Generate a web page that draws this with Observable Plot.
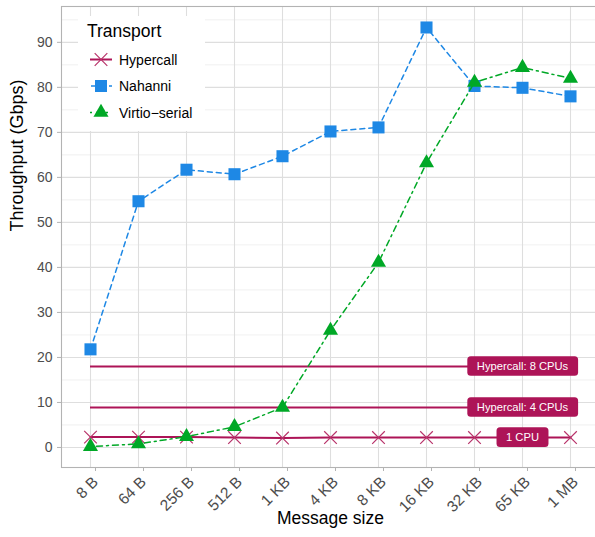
<!DOCTYPE html>
<html><head><meta charset="utf-8">
<script src="https://cdn.jsdelivr.net/npm/d3@7"></script>
<script src="https://cdn.jsdelivr.net/npm/@observablehq/plot@0.6"></script>
<style>
html,body{margin:0;padding:0;background:#fff;overflow:hidden;}
#wrap{position:relative;width:599px;height:537px;overflow:hidden;}
#wrap svg.plot{position:absolute;left:0;top:0;max-width:none !important;}
#legend{position:absolute;left:78px;top:16px;}
</style></head><body><div id="wrap"></div>
<script>
const sizes = ["8 B","64 B","256 B","512 B","1 KB","4 KB","8 KB","16 KB","32 KB","65 KB","1 MB"];
const nahanni = [21.8,54.7,61.7,60.7,64.7,70.2,71.1,93.3,80.3,79.9,78.0];
const virtio = [0.2,0.8,2.4,4.6,8.9,26.0,41.1,63.2,81.1,84.4,82.0];
const hypercall1 = [2.3,2.3,2.3,2.2,2.1,2.2,2.2,2.2,2.2,2.2,2.2];
const multiLabels = ["Hypercall: 8 CPUs","Hypercall: 4 CPUs"];
const multiValues = [18.0,8.9];
const oneCpuLabel = "1 CPU";
const labelAt = "65 KB";
const majorTicks = [0,10,20,30,40,50,60,70,80,90];
const minorTicks = [5,15,25,35,45,55,65,75,85,95];
const seriesNames = ["Hypercall","Nahanni","Virtio\u2212serial"];

const C = {hyper:"#AD1457", nah:"#1E88E5", vir:"#00A826"};
const FONT = '"Liberation Sans", Arial, sans-serif';

const rows = sizes.map((s,i)=>({size:s, nahanni:nahanni[i], virtio:virtio[i], hyper:hypercall1[i]}));
const multi = multiLabels.map((l,i)=>({label:l, value:multiValues[i]}));
const labels = multi.concat([{label:oneCpuLabel, value:hypercall1[sizes.indexOf(labelAt)]}]);

const chart = Plot.plot({
  width: 599, height: 537,
  marginLeft: 61, marginRight: 0, marginTop: 6, marginBottom: 70,
  style: {fontFamily: FONT, fontSize: "14px", background: "#fff", overflow: "visible", maxWidth: "none"},
  x: {type: "point", domain: sizes, padding: 0.6, label: null},
  y: {domain: [-4.45, 97.96], label: null},
  marks: [
    Plot.gridY(minorTicks, {stroke: "#e6e6e6", strokeOpacity: 1, strokeWidth: 0.6}),
    Plot.gridY(majorTicks, {stroke: "#dedede", strokeOpacity: 1, strokeWidth: 1.1}),
    Plot.gridX(sizes, {stroke: "#dedede", strokeOpacity: 1, strokeWidth: 1.1}),
    Plot.frame({stroke: "#b3b3b3", strokeWidth: 1.1}),
    Plot.axisY(majorTicks, {stroke: "#b3b3b3", fill: "#4d4d4d", tickSize: 4, tickPadding: 5, fontSize: 14, label: null}),
    Plot.axisX(sizes, {stroke: "#b3b3b3", fill: "#4d4d4d", tickSize: 4, tickPadding: 8, dx: 5, tickRotate: -45, fontSize: 15.5, label: null}),
    Plot.text(["Throughput (Gbps)"], {text: d => d, frameAnchor: "left", rotate: -90, dx: -44, dy: -5.5, fontSize: 18, fill: "#000"}),
    Plot.text(["Message size"], {text: d => d, frameAnchor: "bottom", dy: 56, fontSize: 17.5, fill: "#000"}),
    Plot.ruleY(multi, {y: "value", x1: () => sizes[0], x2: () => sizes[sizes.length-1], stroke: C.hyper, strokeWidth: 2}),
    Plot.line(rows, {x: "size", y: "hyper", stroke: C.hyper, strokeWidth: 2}),
    Plot.dot(rows, {x: "size", y: "hyper", symbol: "times", r: 5.8, stroke: "#B8336A", strokeWidth: 1.2}),
    Plot.line(rows, {x: "size", y: "nahanni", stroke: C.nah, strokeWidth: 1.5, strokeDasharray: "5,4"}),
    Plot.dot(rows, {x: "size", y: "nahanni", symbol: "square", r: 6.8, fill: C.nah}),
    Plot.line(rows, {x: "size", y: "virtio", stroke: C.vir, strokeWidth: 1.5, strokeDasharray: "2,4,6,4"}),
    Plot.dot(rows, {x: "size", y: "virtio", symbol: "triangle", r: 5.6, fill: C.vir}),
    Plot.text(labels, {x: () => labelAt, y: "value", text: "label", fill: "white", fontSize: 11.2})
  ]
});
chart.classList.add("plot");
chart.style.maxWidth = "none";
const wrap = document.getElementById("wrap");
wrap.append(chart);

// label backgrounds (rounded boxes behind the CPU labels)
const labelSet = new Set(labels.map(d => d.label));
Array.from(chart.querySelectorAll("text")).filter(t => labelSet.has(t.textContent)).forEach(t => {
  const b = t.getBBox();
  const r = document.createElementNS("http://www.w3.org/2000/svg","rect");
  const px = 9.5, py = 3.8;
  r.setAttribute("x", b.x - px); r.setAttribute("y", b.y - py);
  r.setAttribute("width", b.width + 2*px); r.setAttribute("height", b.height + 2*py);
  r.setAttribute("rx", 3.5); r.setAttribute("fill", C.hyper);
  if (t.getAttribute("transform")) r.setAttribute("transform", t.getAttribute("transform"));
  t.parentNode.insertBefore(r, t);
});

// legend
const leg = d3.create("svg").attr("id","legend").attr("width",127).attr("height",115)
  .style("font-family", FONT).style("position","absolute");
leg.append("rect").attr("width",127).attr("height",115).attr("fill","#fff");
leg.append("text").attr("x",9).attr("y",21).attr("font-size",17.5).attr("fill","#000").text("Transport");
const rowY = [43.5, 70, 96.5];
const kx0 = 12, kx1 = 34, kc = 23;
leg.append("line").attr("x1",kx0).attr("x2",kx1).attr("y1",rowY[0]).attr("y2",rowY[0]).attr("stroke",C.hyper).attr("stroke-width",2);
leg.append("path").attr("transform",`translate(${kc},${rowY[0]})`).attr("d",d3.symbol(d3.symbolTimes, 5.8*5.8*Math.PI)()).attr("fill","none").attr("stroke","#B8336A").attr("stroke-width",1.2);
leg.append("line").attr("x1",kx0).attr("x2",kx1).attr("y1",rowY[1]).attr("y2",rowY[1]).attr("stroke",C.nah).attr("stroke-width",1.5).attr("stroke-dasharray","5,4").attr("stroke-dashoffset",-1);
leg.append("path").attr("transform",`translate(${kc},${rowY[1]})`).attr("d",d3.symbol(d3.symbolSquare, 6.8*6.8*Math.PI)()).attr("fill",C.nah);
leg.append("line").attr("x1",kx0).attr("x2",kx1).attr("y1",rowY[2]).attr("y2",rowY[2]).attr("stroke",C.vir).attr("stroke-width",1.5).attr("stroke-dasharray","2,4,6,4");
leg.append("path").attr("transform",`translate(${kc},${rowY[2]})`).attr("d",d3.symbol(d3.symbolTriangle, 5.6*5.6*Math.PI)()).attr("fill",C.vir);
seriesNames.forEach((n,i)=>{
  leg.append("text").attr("x",41).attr("y",rowY[i]+5).attr("font-size",14).attr("fill","#000").text(n);
});
wrap.append(leg.node());
</script></body></html>
